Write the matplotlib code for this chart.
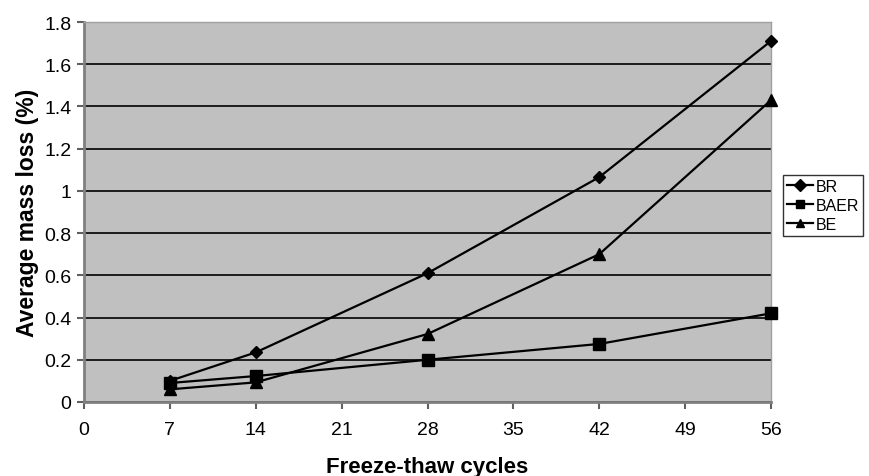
import matplotlib
matplotlib.use("Agg")
import matplotlib.pyplot as plt

plt.rcParams['font.family'] = ['Liberation Sans', 'DejaVu Sans']

cycles = [7, 14, 28, 42, 56]
br = [0.10, 0.235, 0.61, 1.065, 1.71]
baer = [0.09, 0.123, 0.20, 0.275, 0.42]
be = [0.06, 0.093, 0.322, 0.70, 1.43]

x_ticks = [0, 7, 14, 21, 28, 35, 42, 49, 56]
y_ticks = [0, 0.2, 0.4, 0.6, 0.8, 1.0, 1.2, 1.4, 1.6, 1.8]
y_labels = ['0', '0.2', '0.4', '0.6', '0.8', '1', '1.2', '1.4', '1.6', '1.8']

fig = plt.figure(figsize=(8.69, 4.77), dpi=100)
ax = fig.add_axes([84 / 869, 74 / 477, 687 / 869, 380 / 477])
ax.set_facecolor('#c0c0c0')

ax.plot(cycles, br, color='black', lw=1.6, marker='D', ms=6, label='BR', clip_on=False, zorder=3)
ax.plot(cycles, baer, color='black', lw=1.6, marker='s', ms=8, label='BAER', clip_on=False, zorder=3)
ax.plot(cycles, be, color='black', lw=1.6, marker='^', ms=8, label='BE', clip_on=False, zorder=3)

ax.set_xlim(0, 56)
ax.set_ylim(0, 1.8)
ax.set_xticks(x_ticks)
ax.set_yticks(y_ticks)
ax.set_yticklabels(y_labels)
ax.yaxis.grid(True, color='black', lw=1.2)
ax.set_axisbelow(True)

for side in ['top', 'right']:
    ax.spines[side].set_color('#a0a0a0')
    ax.spines[side].set_linewidth(1.0)
for side in ['left', 'bottom']:
    ax.spines[side].set_color('#808080')
    ax.spines[side].set_linewidth(2.0)

ax.tick_params(axis='both', direction='out', length=5, width=1.5, color='#606060',
               labelsize=14, labelcolor='black')
ax.tick_params(axis='x', pad=9)
ax.tick_params(axis='y', pad=4)

ax.set_xlabel('Freeze-thaw cycles', fontsize=16, fontweight='bold', labelpad=13)
ax.set_ylabel('Average mass loss (%)', fontsize=16.5, fontweight='bold', labelpad=4)

leg = fig.legend(loc='upper left', bbox_to_anchor=(783 / 869, 1 - 176 / 477),
                 frameon=True, fancybox=False, edgecolor='black', fontsize=11.5,
                 handlelength=1.6, handletextpad=0.2, borderpad=0.25, labelspacing=0.25,
                 borderaxespad=0)
leg.get_frame().set_linewidth(1.0)
for h in leg.legend_handles:
    h.set_markersize(6)

fig.savefig('out.png', dpi=100)
